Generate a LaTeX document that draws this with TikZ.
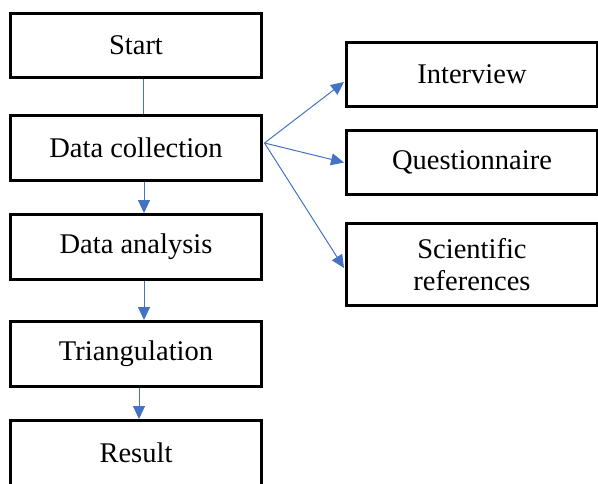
\documentclass[tikz,border=0pt]{standalone}
\usepackage{fontspec}
\newfontfamily\lsf{Liberation Serif}
\usetikzlibrary{arrows.meta,calc}
\definecolor{lnblue}{HTML}{4472C4}
\begin{document}
\begin{tikzpicture}[x=1pt,y=-1pt,
  box/.style={draw=black,line width=3pt,rectangle,minimum width=251pt,minimum height=64pt,inner sep=0pt,align=center,font=\lsf\fontsize{28.5}{32}\selectfont},
  conn/.style={draw=lnblue,line width=1pt},
  arr/.style={conn,-{Triangle[length=13pt,width=12pt]}}]
\useasboundingbox (0,0) rectangle (598,483);
\clip (0,0) rectangle (598,483);
\node[box] (start) at (136,45.5) {Start};
\node[box,minimum height=65pt] (dc) at (136,148) {Data collection};
\node[box,minimum height=65pt] (da) at (136,247) {Data analysis};
\node[box,minimum height=65pt] (tri) at (136,354) {Triangulation};
\node[box,minimum height=65pt] (res) at (136,453) {Result};
\node[box] (int) at (472,74.5) {Interview};
\node[box] (que) at (472,162.5) {Questionnaire};
\node[box,minimum height=82pt] (sci) at (472,264.5) {Scientific\\references};
\draw[conn] ($(start.south)+(7,0)$) -- ($(dc.north)+(7,0)$);
\draw[arr] ($(dc.south)+(8,0)$) -- ($(da.north)+(8,0)$);
\draw[arr] ($(da.south)+(8,0)$) -- ($(tri.north)+(8,0)$);
\draw[arr] ($(tri.south)+(3,0)$) -- ($(res.north)+(3,0)$);
\coordinate (o) at ($(dc.east)+(1.5,-5)$);
\draw[arr] (o) -- ($(int.west)+(-1,7.5)$);
\draw[arr] (o) -- ($(que.west)+(-1,0)$);
\draw[arr] (o) -- ($(sci.west)+(-1,3.5)$);
\end{tikzpicture}
\end{document}
